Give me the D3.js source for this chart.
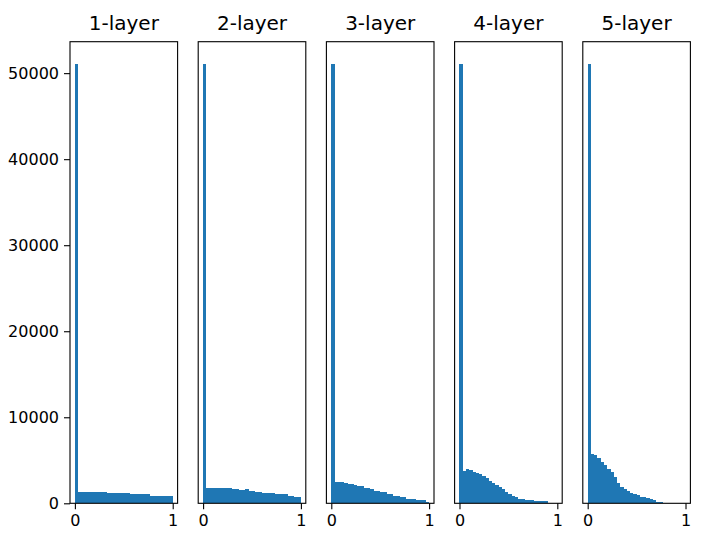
<!DOCTYPE html>
<html>
<head>
<meta charset="utf-8">
<script src="https://cdn.jsdelivr.net/npm/d3@7"></script>
<style>
  html, body { margin: 0; padding: 0; background: #fff; }
  svg { display: block; }
  text { font-family: "DejaVu Sans", sans-serif; fill: #000; }
</style>
</head>
<body>
<svg id="chart" width="709" height="541"></svg>
<script>
// ---- data ----
const panelTitles = ["1-layer", "2-layer", "3-layer", "4-layer", "5-layer"];
const binCount = 30;
const binRange = [0, 1];
const layer1Counts = [51100, 1350,1350,1345,1350,1348,1345,1350,1340,1345, 1160,1165,1160,1155,1160,1158,1160, 1045,1048,1040,1045,1042,1045, 885,883,880,885,882,880,883];
const layer2Counts = [51100, 1740,1745,1740,1738,1742,1740,1735,1740, 1626,1620, 1545,1550, 1626, 1463,1460, 1312,1310, 1161,1165,1158,1160, 1045,1048,1042,1045, 848,845, 697,690];
const layer3Counts = [51100, 2510,2440,2510,2360,2245,2240,2125,2010,2005,1745,1810,1660,1465,1460,1280,1275,1080,1078,885,880,700,695,535,532,530,385,382,380,190];
const layer4Counts = [51100, 3786,3950,3833,3670,3554,3368,3136,2904,2625,2393,2125,1893,1661,1347,1115,883,697,534,530,348,345,340,232,230,228,225,60,30,15];
const layer5Counts = [51100, 5726,5575,5261,4797,4483,3949,3635,3020,2393,1929,1626,1400,1231,1050,929,780,697,560,464,420,200,100,60,30,15,8,4,2,1];
const allCounts = [layer1Counts, layer2Counts, layer3Counts, layer4Counts, layer5Counts];
const xTickValues = [0, 1];
const yTickValues = [0, 10000, 20000, 30000, 40000, 50000];

// ---- layout ----
const svg = d3.select("#chart");
const plotTop = 41.7, plotBottom = 503.3;
const panelW = 107.6, panelStep = 128.2, firstLeft = 70;
const barColor = "#1f77b4";

allCounts.forEach((counts, i) => {
  const left = firstLeft + i * panelStep;
  const g = svg.append("g").attr("transform", `translate(${left},0)`);
  const span = binRange[1] - binRange[0];
  const x = d3.scaleLinear()
    .domain([binRange[0] - 0.05 * span, binRange[1] + 0.05 * span])
    .range([0, panelW]);
  const y = d3.scaleLinear()
    .domain([0, d3.max(counts) * 1.05])
    .range([plotBottom, plotTop]);
  const bw = span / binCount;

  g.selectAll("rect.bar").data(counts).join("rect")
    .attr("class", "bar")
    .attr("x", (d, k) => x(binRange[0] + k * bw))
    .attr("width", (d, k) => x(binRange[0] + (k + 1) * bw) - x(binRange[0] + k * bw))
    .attr("y", d => y(d))
    .attr("height", d => plotBottom - y(d))
    .attr("fill", barColor)
    .attr("shape-rendering", "crispEdges");

  // frame
  g.append("rect")
    .attr("x", 0).attr("y", plotTop)
    .attr("width", panelW).attr("height", plotBottom - plotTop)
    .attr("fill", "none").attr("stroke", "#000").attr("stroke-width", 1.1);

  // x axis
  const xa = g.append("g").attr("transform", `translate(0,${plotBottom})`)
    .call(d3.axisBottom(x).tickValues(xTickValues).tickFormat(d3.format("d")).tickSize(6).tickPadding(5).tickSizeOuter(0));
  xa.select(".domain").remove();
  xa.selectAll("line").attr("stroke", "#000").attr("stroke-width", 1.1);
  xa.selectAll("text").attr("font-size", 16).attr("font-family", "DejaVu Sans").attr("fill", "#000");

  if (i === 0) {
    const ya = g.append("g")
      .call(d3.axisLeft(y).tickValues(yTickValues).tickFormat(d3.format("d")).tickSize(6).tickPadding(5).tickSizeOuter(0));
    ya.select(".domain").remove();
    ya.selectAll("line").attr("stroke", "#000").attr("stroke-width", 1.1);
    ya.selectAll("text").attr("font-size", 16).attr("font-family", "DejaVu Sans").attr("fill", "#000");
  }

  g.append("text")
    .attr("x", panelW / 2).attr("y", plotTop - 12)
    .attr("text-anchor", "middle")
    .attr("font-size", 20)
    .text(panelTitles[i]);
});
</script>
</body>
</html>
